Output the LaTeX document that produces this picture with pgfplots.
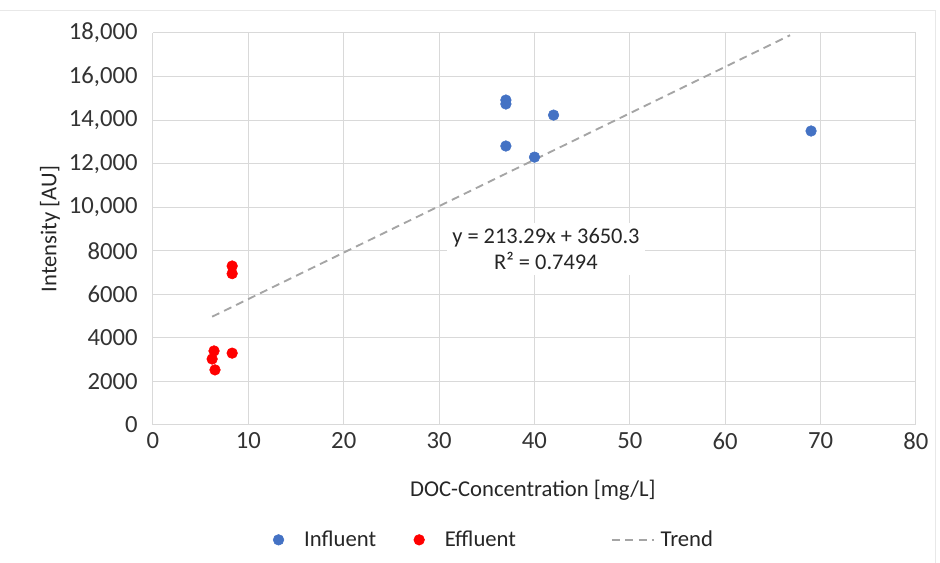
\documentclass[border=0pt]{standalone}
\usepackage{pgfplots}
\pgfplotsset{compat=1.18}
\usepackage{fontspec}
\setmainfont{Carlito}
\definecolor{infl}{HTML}{4472C4}
\definecolor{effl}{HTML}{FF0000}
\definecolor{gridc}{HTML}{D9D9D9}
\definecolor{trendc}{HTML}{A5A5A5}
\pgfplotsset{trendleg/.style={legend image code/.code={\path[draw=none] (0pt,0pt) -- (65pt,0pt); \draw[##1, overlay] (43.7pt,0pt) -- (75.2pt,0pt);}}}
\begin{document}
\begin{tikzpicture}[x=0.75pt,y=0.75pt]
\path[use as bounding box] (0,0) rectangle (940,563);
\draw[gridc!60, line width=0.6pt] (0,553) -- (935,553) -- (935,0);
\begin{axis}[
  at={(153*0.75pt,138*0.75pt)}, anchor=south west,
  scale only axis, width=572.25pt, height=294pt,
  xmin=0, xmax=80, ymin=0, ymax=18000,
  scaled y ticks=false,
  xtick={0,10,...,80},
  ytick={0,2000,...,18000},
  yticklabels={0,2000,4000,6000,8000,{10,000},{12,000},{14,000},{16,000},{18,000}},
  grid=major, grid style={gridc, line width=0.75pt},
  axis line style={draw=none},
  tick style={draw=none},
  ticklabel style={font=\fontsize{18.5}{21}\selectfont, text=black!80},
  yticklabel style={xshift=-8pt},
  xticklabel style={yshift=-2pt},
  /pgf/number format/assume math mode=true,
  xlabel={DOC-Concentration [mg/L]},
  ylabel={Intensity [AU]},
  every axis x label/.style={at={(axis description cs:0.498,-0.166)}, anchor=center, font=\fontsize{17}{20}\selectfont, text=black!85},
  every axis y label/.style={at={(axis description cs:-0.135,0.5)}, rotate=90, anchor=center, font=\fontsize{17}{20}\selectfont, text=black!85},
  legend columns=3,
  legend style={draw=none, at={(0.4475,-0.293)}, anchor=center,
    font=\fontsize{17}{20}\selectfont, text=black!85,
    /tikz/every even column/.append style={column sep=26.25pt},
    /tikz/every odd column/.append style={column sep=13.25pt}},
  clip=false,
]
\addplot[only marks, mark=*, mark size=4pt, mark options={draw=infl, fill=infl}] coordinates {
  (37,14920) (37,14740) (42,14230) (37,12810) (40,12300) (69,13500)
};
\addlegendentry{Influent}
\addplot[only marks, mark=*, mark size=4pt, mark options={draw=effl, fill=effl}] coordinates {
  (8.3,7300) (8.3,6950) (6.4,3400) (6.2,3030) (6.5,2530) (8.3,3300)
};
\addlegendentry{Effluent}
\addplot[trendc, line width=1.4pt, dash pattern=on 6pt off 4pt, trendleg] coordinates {
  (6.2,4973) (66.8,17898)
};
\addlegendentry{Trend}
\node[fill=white, align=center, font=\fontsize{16.8}{20}\selectfont, text=black!85, inner sep=4pt] at (axis cs:41.2,8080) {y = 213.29x + 3650.3\\R² = 0.7494};
\end{axis}
\end{tikzpicture}
\end{document}
